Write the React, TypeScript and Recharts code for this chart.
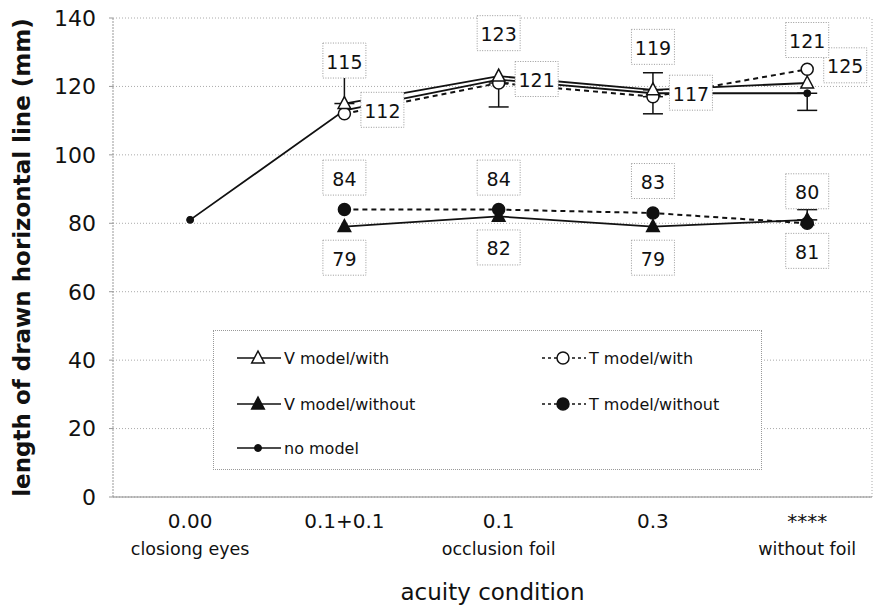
import React from 'react'
import { LineChart, Line, XAxis, YAxis, CartesianGrid, ReferenceLine, Legend, LabelList, ErrorBar } from 'recharts'

const conditions = ['0.00', '0.1+0.1', '0.1', '0.3', '****']
const conditionNotes = ['closiong eyes', '', 'occlusion foil', '', 'without foil']
const yTicks = [0, 20, 40, 60, 80, 100, 120, 140]

const vModelWith = [null, 115, 123, 119, 121]
const tModelWith = [null, 112, 121, 117, 125]
const vModelWithout = [null, 79, 82, 79, 81]
const tModelWithout = [null, 84, 84, 83, 80]
const noModel = [81, 113, 122, 118, 118]

// one-sided error bars as [below, above]
const vModelWithErr = [null, [0, 9], null, [0, 5], null]
const tModelWithErr = [null, null, [7, 0], [5, 0], null]
const vModelWithoutErr = [null, null, null, null, [0, 3]]
const noModelErr = [null, null, null, null, [5, 0]]

const data = conditions.map((c, i) => ({
  idx: i,
  label: c,
  vWith: vModelWith[i],
  tWith: tModelWith[i],
  vWithout: vModelWithout[i],
  tWithout: tModelWithout[i],
  none: noModel[i],
  vWithErr: vModelWithErr[i],
  tWithErr: tModelWithErr[i],
  vWithoutErr: vModelWithoutErr[i],
  noneErr: noModelErr[i],
}))

const INK = '#111'
const FONT = '"DejaVu Sans", sans-serif'

type Shape = 'triangle' | 'circle' | 'dot'

function Marker({ cx, cy, shape, filled }: { cx: number; cy: number; shape: Shape; filled: boolean }) {
  const fill = filled ? INK : '#fff'
  if (shape === 'triangle') {
    const s = 7
    return <polygon points={`${cx},${cy - s} ${cx + s * 0.9},${cy + s * 0.7} ${cx - s * 0.9},${cy + s * 0.7}`} fill={fill} stroke={INK} strokeWidth={1.5} />
  }
  if (shape === 'circle') return <circle cx={cx} cy={cy} r={6} fill={fill} stroke={INK} strokeWidth={1.5} />
  return <circle cx={cx} cy={cy} r={3.5} fill={INK} stroke={INK} />
}

const dotOf = (shape: Shape, filled: boolean) => (props: any) => {
  const { cx, cy, index } = props
  if (cx == null || cy == null || props.value == null) return <g key={index} />
  return <Marker key={index} cx={cx} cy={cy} shape={shape} filled={filled} />
}

// value tag in a dotted box, offset from its point
const boxLabel = (dx: number, dy: number) => (props: any) => {
  const { x, y, value, index } = props
  if (value == null) return <g key={index} />
  const w = 43
  const h = 35
  const cx = x + dx
  const cy = y + dy
  return (
    <g key={index}>
      <rect x={cx - w / 2} y={cy - h / 2} width={w} height={h} fill="#fff" stroke="#999" strokeDasharray="1 1.5" />
      <text x={cx} y={cy + 1} textAnchor="middle" dominantBaseline="central" fontFamily={FONT} fontSize={19} fill={INK}>
        {value}
      </text>
    </g>
  )
}

function XTick(props: any) {
  const { x, y, payload } = props
  const i = payload.value as number
  return (
    <g>
      <text x={x} y={y + 24} textAnchor="middle" dominantBaseline="central" fontFamily={FONT} fontSize={20} fill={INK}>
        {conditions[i]}
      </text>
      {conditionNotes[i] && (
        <text x={x} y={y + 52} textAnchor="middle" dominantBaseline="central" fontFamily={FONT} fontSize={17.5} fill={INK}>
          {conditionNotes[i]}
        </text>
      )}
    </g>
  )
}

function YTitle(props: any) {
  const { viewBox } = props
  const cx = 22
  const cy = viewBox.y + viewBox.height / 2
  return (
    <text x={cx} y={cy} transform={`rotate(-90 ${cx} ${cy})`} textAnchor="middle" dominantBaseline="central" fontFamily={FONT} fontWeight="bold" fontSize={23} fill={INK}>
      length of drawn horizontal line (mm)
    </text>
  )
}

function LegendIcon({ shape, filled, dashed }: { shape: Shape; filled: boolean; dashed: boolean }) {
  return (
    <svg width={44} height={20} style={{ display: 'block' }}>
      <line x1={0} y1={10} x2={44} y2={10} stroke={INK} strokeWidth={1.5} strokeDasharray={dashed ? '3 3' : undefined} />
      <Marker cx={21} cy={10} shape={shape} filled={filled} />
    </svg>
  )
}

const legendItems = [
  { name: 'V model/with', shape: 'triangle' as Shape, filled: false, dashed: false, left: 236, top: 17 },
  { name: 'T model/with', shape: 'circle' as Shape, filled: false, dashed: true, left: 541, top: 17 },
  { name: 'V model/without', shape: 'triangle' as Shape, filled: true, dashed: false, left: 236, top: 63 },
  { name: 'T model/without', shape: 'circle' as Shape, filled: true, dashed: true, left: 541, top: 63 },
  { name: 'no model', shape: 'dot' as Shape, filled: true, dashed: false, left: 236, top: 107 },
]

function LegendBox() {
  return (
    <div style={{ position: 'relative', width: 549, height: 140, border: '1px dotted #999', background: '#fff', boxSizing: 'border-box' }}>
      {legendItems.map(it => (
        <div key={it.name} style={{ position: 'absolute', left: it.left - 213, top: it.top, display: 'flex', alignItems: 'center', gap: 3 }}>
          <LegendIcon shape={it.shape} filled={it.filled} dashed={it.dashed} />
          <span style={{ fontFamily: FONT, fontSize: 16, color: INK, whiteSpace: 'nowrap' }}>{it.name}</span>
        </div>
      ))}
    </div>
  )
}

export default function App() {
  return (
    <div style={{ position: 'absolute', left: 0, top: 0, background: '#fff' }}>
      <LineChart width={873} height={605} data={data} margin={{ top: 18, right: 1, left: 0, bottom: 0 }}>
        <CartesianGrid vertical={false} stroke="#aaa" strokeDasharray="1 2" />
        <XAxis
          type="number"
          dataKey="idx"
          domain={[-0.5, 4.42]}
          ticks={[0, 1, 2, 3, 4]}
          allowDataOverflow
          height={108}
          tickSize={0}
          tickMargin={0}
          tick={<XTick />}
          axisLine={{ stroke: '#888' }}
          label={{ value: 'acuity condition', position: 'insideBottom', offset: 5, style: { fontFamily: FONT, fontSize: 23, fill: INK } }}
        />
        <YAxis
          domain={[0, 140]}
          ticks={yTicks}
          width={113}
          tickSize={4}
          tickMargin={13}
          tick={{ fontFamily: FONT, fontSize: 22, fill: INK }}
          tickLine={{ stroke: '#999' }}
          axisLine={{ stroke: '#999', strokeDasharray: '2 1' }}
          label={<YTitle />}
        />
        <ReferenceLine x={4.42} stroke="#aaa" strokeDasharray="1 2" />
        <Legend
          layout="horizontal"
          verticalAlign="middle"
          align="center"
          width={549}
          wrapperStyle={{ left: 213, top: 330, width: 549, height: 140 }}
          content={() => <LegendBox />}
        />

        <Line type="linear" dataKey="none" stroke={INK} strokeWidth={1.8} dot={dotOf('dot', true)} isAnimationActive={false}>
          <ErrorBar dataKey="noneErr" direction="y" width={10} stroke={INK} strokeWidth={1.5} />
        </Line>
        <Line type="linear" dataKey="vWithout" stroke={INK} strokeWidth={1.8} dot={dotOf('triangle', true)} isAnimationActive={false}>
          <ErrorBar dataKey="vWithoutErr" direction="y" width={10} stroke={INK} strokeWidth={1.5} />
          <LabelList dataKey="vWithout" content={boxLabel(0, 31)} />
        </Line>
        <Line type="linear" dataKey="tWithout" stroke={INK} strokeWidth={2} strokeDasharray="5 4" dot={dotOf('circle', true)} isAnimationActive={false}>
          <LabelList dataKey="tWithout" content={boxLabel(0, -32)} />
        </Line>
        <Line type="linear" dataKey="tWith" stroke={INK} strokeWidth={2} strokeDasharray="5 4" dot={dotOf('circle', false)} isAnimationActive={false}>
          <ErrorBar dataKey="tWithErr" direction="y" width={10} stroke={INK} strokeWidth={1.5} />
          <LabelList dataKey="tWith" content={boxLabel(38, -4)} />
        </Line>
        <Line type="linear" dataKey="vWith" stroke={INK} strokeWidth={1.8} dot={dotOf('triangle', false)} isAnimationActive={false}>
          <ErrorBar dataKey="vWithErr" direction="y" width={10} stroke={INK} strokeWidth={1.5} />
          <LabelList dataKey="vWith" content={boxLabel(0, -43)} />
        </Line>
      </LineChart>
    </div>
  )
}
